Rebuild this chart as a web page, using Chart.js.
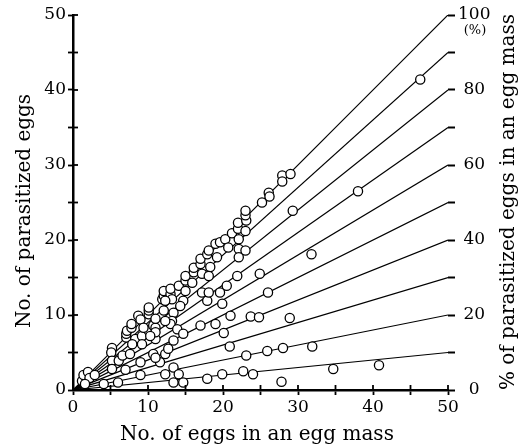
<!DOCTYPE html>
<html><head><meta charset="utf-8">
<script src="https://cdn.jsdelivr.net/npm/chart.js@4.4.1/dist/chart.umd.min.js"></script>
<style>html,body{margin:0;padding:0;background:#fff;}#wrap{width:521px;height:445px;}</style>
</head><body><div id="wrap"><canvas id="c" width="521" height="445"></canvas></div>
<script>
// Data
const eggsPerMass = [1.2,1.4,2.0,2.2,2.9,1.6,4.1,6.0,5.2,5.1,5.2,6.1,5.2,6.6,7.0,
  7.1,7.1,7.2,7.8,7.8,8.3,7.9,7.6,9.0,9.0,8.7,9.0,10.1,10.1,10.1,9.2,9.2,10.1,10.7,10.7,11.0,9.4,
  11.9,12.1,12.1,13.0,13.0,11.0,12.1,13.4,13.2,13.0,13.9,12.3,11.6,12.3,13.4,13.4,13.4,12.7,11.0,10.3,11.0,
  14.1,15.0,15.0,15.0,15.9,16.1,16.1,14.7,14.7,14.1,14.7,
  17.0,17.0,17.2,17.2,17.9,18.1,18.3,18.1,17.9,17.0,19.0,19.2,19.6,19.6,19.9,19.0,17.9,19.9,
  20.3,20.7,21.2,20.5,21.9,20.1,20.9,21.0,
  22.0,22.0,22.1,22.1,22.1,23.0,23.0,23.1,23.0,23.0,23.7,23.1,22.7,24.0,
  24.9,25.2,26.1,26.2,26.0,24.8,25.9,28.0,28.9,27.8,27.9,27.9,29.0,29.3,
  31.8,31.9,34.7,38.0,40.8,46.3,
  18.1,14.3,13.2,12.3,11.0,12.3];
const parasitizedEggs = [1.2,2.0,2.4,1.6,2.0,0.8,0.8,1.0,5.6,5.0,3.9,3.9,2.8,4.6,2.7,
  7.0,7.5,7.9,8.3,8.8,6.8,6.1,4.8,3.7,2.0,9.9,9.4,10.1,10.6,11.0,7.2,6.1,7.9,8.6,4.8,6.8,8.3,
  12.1,12.6,13.2,12.8,13.5,8.3,10.6,10.3,9.2,8.8,8.1,4.8,3.7,2.1,3.0,1.0,6.6,5.5,7.7,7.2,4.3,
  13.9,13.2,14.6,15.2,14.3,15.7,16.3,11.9,7.5,2.1,1.0,
  16.8,17.5,15.5,13.0,18.1,18.6,16.4,15.2,11.9,8.6,19.5,17.7,19.7,13.0,11.5,8.8,1.5,2.1,
  20.1,19.0,20.9,13.9,15.2,7.6,5.8,9.9,
  21.5,22.3,20.1,18.8,17.7,21.2,18.6,22.6,23.3,23.9,9.8,4.6,2.5,2.1,
  15.5,25.0,26.3,25.8,13.0,9.7,5.2,5.6,9.6,1.1,28.6,27.8,28.8,23.9,
  18.1,5.8,2.8,26.5,3.3,41.4,
  13.0,11.2,12.1,11.9,9.5,9.2];
const percentLines = [10,20,30,40,50,60,70,80,90,100];
const xTickLabels = [0,10,20,30,40,50];
const leftTickLabels = [0,10,20,30,40,50];
const rightTickLabels = [0,20,40,60,80,100];
const xTitle = 'No. of eggs in an egg mass';
const yTitle = 'No. of parasitized eggs';
const y2Title = '% of parasitized eggs in an egg mass';
const y2Unit = '(%)';

const FONT = 'DejaVu Serif';

const datasets = [{
  type: 'scatter',
  data: eggsPerMass.map((x, i) => ({x: x, y: parasitizedEggs[i]})),
  pointRadius: 4.6, pointBorderWidth: 1.3,
  borderColor: '#000', backgroundColor: '#fff', pointBackgroundColor: '#fff',
  xAxisID: 'x', yAxisID: 'y', order: 0
}].concat(percentLines.map(p => ({
  type: 'line',
  data: [{x: 0, y: 0}, {x: 50, y: p}],
  borderColor: '#000', borderWidth: 1.2, pointRadius: 0, fill: false,
  xAxisID: 'x', yAxisID: 'y2', order: 1
})));

const crossTicks = {
  id: 'crossTicks',
  afterDraw(chart) {
    const ctx = chart.ctx, a = chart.chartArea;
    ctx.save();
    ctx.strokeStyle = '#000'; ctx.lineWidth = 1.8;
    chart.scales.x.ticks.forEach(t => {
      const px = chart.scales.x.getPixelForValue(t.value);
      ctx.beginPath(); ctx.moveTo(px, a.bottom); ctx.lineTo(px, a.bottom - 5); ctx.stroke();
    });
    chart.scales.y.ticks.forEach(t => {
      const py = chart.scales.y.getPixelForValue(t.value);
      ctx.beginPath(); ctx.moveTo(a.left, py); ctx.lineTo(a.left + 5, py); ctx.stroke();
    });
    ctx.fillStyle = '#000';
    ctx.font = '20px "' + FONT + '"';
    ctx.textAlign = 'center'; ctx.textBaseline = 'alphabetic';
    ctx.fillText(xTitle, 257, 440);
    ctx.save(); ctx.translate(30, 211); ctx.rotate(-Math.PI / 2); ctx.fillText(yTitle, 0, 0); ctx.restore();
    ctx.save(); ctx.translate(514, 202); ctx.rotate(-Math.PI / 2); ctx.fillText(y2Title, 0, 0); ctx.restore();
    ctx.font = '13px "' + FONT + '"';
    ctx.textBaseline = 'middle';
    const y2 = chart.scales.y2;
    ctx.fillText(y2Unit, 475, y2.getPixelForValue(100) + 16);
    ctx.restore();
  }
};

const tickFont = {family: FONT, size: 17};
new Chart(document.getElementById('c'), {
  data: {datasets},
  options: {
    responsive: false, animation: false, devicePixelRatio: 1,
    layout: {padding: {top: 15, left: 0, right: 0, bottom: 0}},
    plugins: {legend: {display: false}, tooltip: {enabled: false}},
    scales: {
      x: {
        type: 'linear', position: 'bottom', min: 0, max: 50,
        ticks: {stepSize: 5, autoSkip: false, maxRotation: 0, color: '#000', font: tickFont, padding: 2,
          callback: v => xTickLabels.includes(v) ? String(v) : ''},
        grid: {drawOnChartArea: false, tickLength: 5, tickColor: '#000', tickWidth: 1.8},
        border: {color: '#000', width: 2.5},
        afterFit: s => { s.height = 55; }
      },
      y: {
        type: 'linear', position: 'left', min: 0, max: 50,
        ticks: {stepSize: 5, autoSkip: false, color: '#000', font: tickFont, padding: 2,
          callback: v => leftTickLabels.includes(v) ? String(v) : ''},
        grid: {drawOnChartArea: false, tickLength: 5, tickColor: '#000', tickWidth: 1.8},
        border: {color: '#000', width: 2.5},
        afterFit: s => { s.width = 73; }
      },
      y2: {
        type: 'linear', position: 'right', min: 0, max: 100,
        ticks: {stepSize: 10, autoSkip: false, color: '#000', font: tickFont, padding: 3, crossAlign: 'center',
          callback: v => rightTickLabels.includes(v) ? String(v) : ''},
        grid: {drawOnChartArea: false, tickLength: 7, tickColor: '#000', tickWidth: 2},
        border: {display: false},
        afterFit: s => { s.width = 73; }
      }
    }
  },
  plugins: [crossTicks]
});
</script></body></html>
